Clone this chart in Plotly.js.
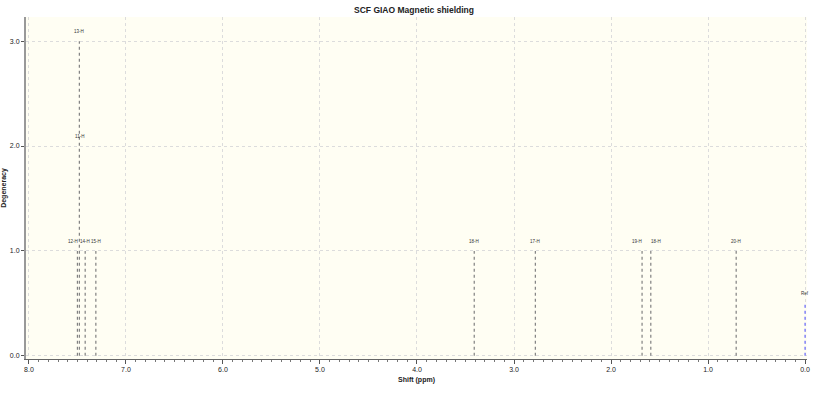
<!DOCTYPE html>
<html><head><meta charset="utf-8">
<script src="https://cdn.plot.ly/plotly-3.0.1.min.js"></script>
<style>html,body{margin:0;padding:0;background:#fff}</style>
</head><body><div id="chart" style="width:828px;height:396px"></div>
<script>
// Peak data (shift in ppm, degeneracy)
const peakShift = [7.50, 7.48, 7.42, 7.31, 3.41, 2.78, 1.68, 1.59, 0.71];
const peakDegeneracy = [1, 3, 1, 1, 1, 1, 1, 1, 1];
const refShift = [0.0];
const refDegeneracy = [0.5];
// Peak labels
const labelShift = [7.48, 7.48, 7.49, 7.42, 7.31, 3.41, 2.78, 1.68, 1.59, 0.71, 0.0];
const labelLevel = [3, 2, 1, 1, 1, 1, 1, 1, 1, 1, 0.5];
const labelText = ["13-H", "11-H", "12-H", "14-H", "15-H", "18-H", "17-H", "19-H", "18-H", "20-H", "Ref"];
const labelAnchor = ["center", "center", "right", "center", "center", "center", "center", "right", "left", "center", "center"];
const xTickVals = [8, 7, 6, 5, 4, 3, 2, 1, 0];
const yTickVals = [0, 1, 2, 3];

function sticks(xs, ys) {
  const X = [], Y = [];
  xs.forEach((s, i) => { X.push(s, s, null); Y.push(0, ys[i], null); });
  return {X, Y};
}
const p = sticks(peakShift, peakDegeneracy);
const r = sticks(refShift, refDegeneracy);

const traces = [
  {x: p.X, y: p.Y, type: 'scatter', mode: 'lines', line: {color: '#808080', width: 1.2, dash: 'dot'}, hoverinfo: 'skip', connectgaps: false},
  {x: r.X, y: r.Y, type: 'scatter', mode: 'lines', line: {color: '#6b6bff', width: 1.2, dash: 'dot'}, hoverinfo: 'skip', connectgaps: false}
];

const annotations = labelText.map((t, i) => ({
  x: labelShift[i], y: labelLevel[i], xref: 'x', yref: 'y', text: t, showarrow: false,
  xanchor: labelAnchor[i], yanchor: 'bottom', yshift: 5, xshift: labelAnchor[i] === 'right' ? 2 : (labelAnchor[i] === 'left' ? -2 : 0),
  font: {family: 'Liberation Sans, Arial, sans-serif', size: 4.5, color: '#333'}
}));

const layout = {
  width: 828, height: 396,
  margin: {l: 26, r: 21, t: 17, b: 37},
  paper_bgcolor: '#ffffff',
  plot_bgcolor: '#fffef3',
  showlegend: false,
  annotations: annotations,
  title: {text: '<b>SCF GIAO Magnetic shielding</b>', x: 0.5, xanchor: 'center', y: 0.974, yanchor: 'middle',
          font: {family: 'Liberation Sans, Arial, sans-serif', size: 8.5, color: '#222'}},
  xaxis: {
    range: [8.03, -0.02], tickvals: xTickVals, tickformat: '.1f',
    ticks: 'outside', ticklen: 4, tickcolor: '#555', tickwidth: 1,
    minor: {dtick: 0.1, ticks: 'outside', ticklen: 2, tickcolor: '#777', showgrid: false},
    showgrid: true, gridcolor: '#dcdcdc', griddash: 'dot', gridwidth: 1,
    zeroline: false, showline: true, linecolor: '#666', linewidth: 1,
    tickfont: {family: 'Liberation Sans, Arial, sans-serif', size: 7, color: '#222'},
    title: {text: '<b>Shift (ppm)</b>', standoff: 4, font: {family: 'Liberation Sans, Arial, sans-serif', size: 7, color: '#222'}}
  },
  yaxis: {
    range: [-0.03, 3.23], tickvals: yTickVals, tickformat: '.1f',
    ticks: 'outside', ticklen: 3, tickcolor: '#555',
    showgrid: true, gridcolor: '#dcdcdc', griddash: 'dot', gridwidth: 1,
    zeroline: false, showline: true, linecolor: '#999', linewidth: 2,
    tickfont: {family: 'Liberation Sans, Arial, sans-serif', size: 7, color: '#222'},
    title: {text: '<b>Degeneracy</b>', standoff: 2, font: {family: 'Liberation Sans, Arial, sans-serif', size: 7, color: '#222'}}
  }
};
Plotly.newPlot('chart', traces, layout, {displayModeBar: false, staticPlot: true});
</script></body></html>
